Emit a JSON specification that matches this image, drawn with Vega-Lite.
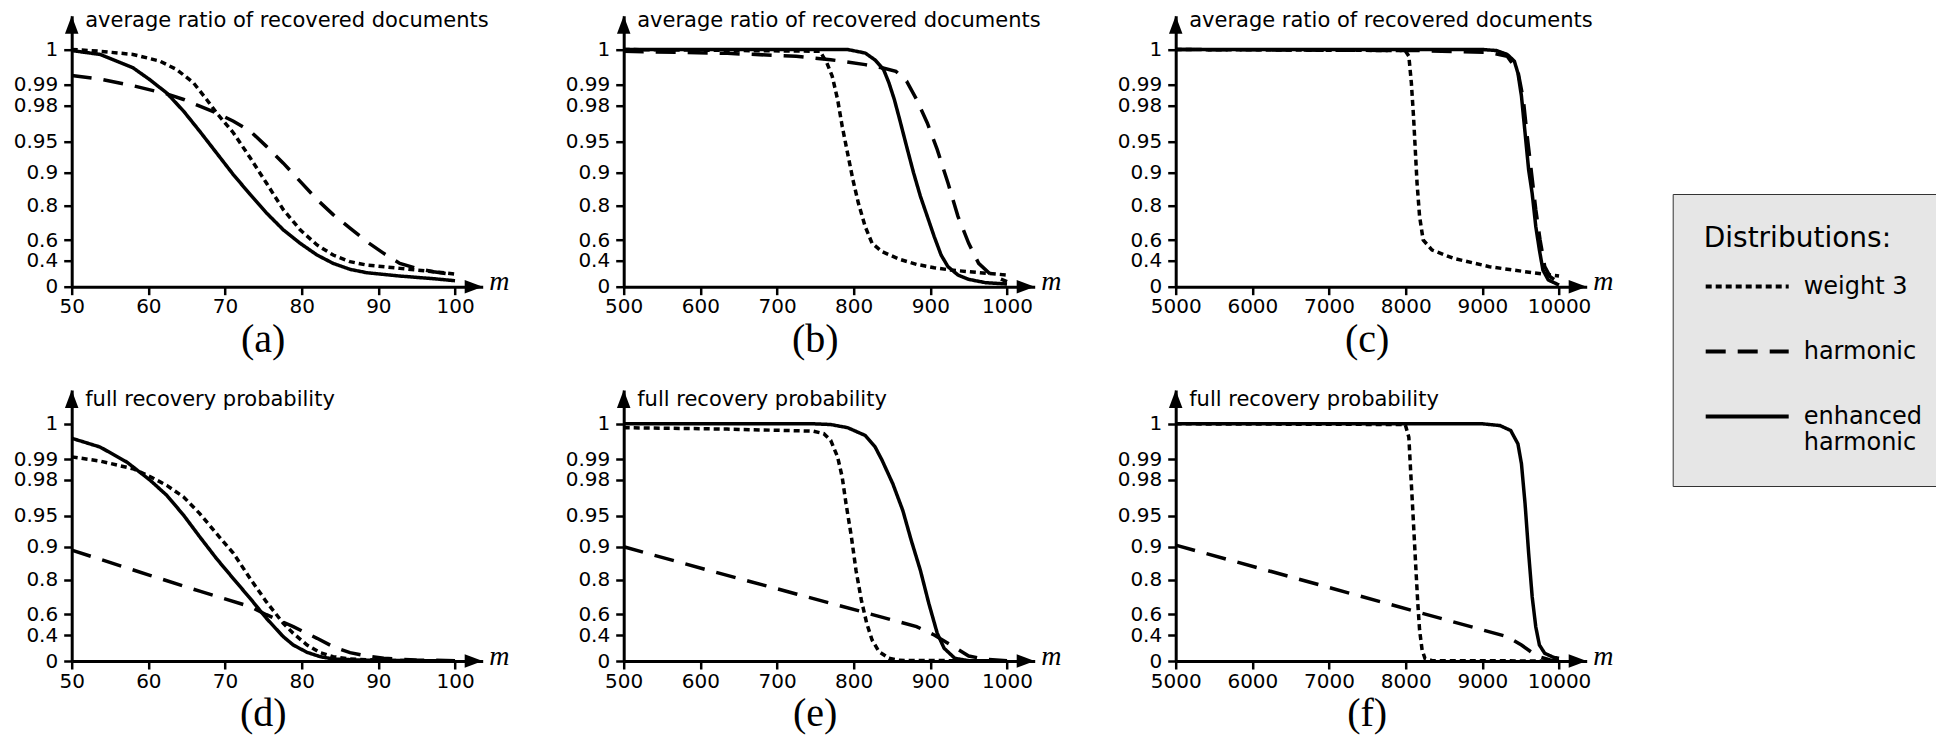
{
  "$schema": "https://vega.github.io/schema/vega-lite/v6.json",
  "autosize": {"type": "none"},
  "padding": {"left": 71.7, "top": 15.7, "right": 1864.3, "bottom": 724.3},
  "background": "white",
  "datasets": {
    "a": [
      {"dist": "weight 3", "m": 50, "v": 1.0}, {"dist": "weight 3", "m": 53.7, "v": 0.9995}, {"dist": "weight 3", "m": 58, "v": 0.9986}, {"dist": "weight 3", "m": 61.5, "v": 0.9967}, {"dist": "weight 3", "m": 63.7, "v": 0.9943}, {"dist": "weight 3", "m": 65.9, "v": 0.9905}, {"dist": "weight 3", "m": 67.6, "v": 0.9829}, {"dist": "weight 3", "m": 68.9, "v": 0.9738}, {"dist": "weight 3", "m": 71.1, "v": 0.957}, {"dist": "weight 3", "m": 73.3, "v": 0.9231}, {"dist": "weight 3", "m": 75.4, "v": 0.868}, {"dist": "weight 3", "m": 77.6, "v": 0.776}, {"dist": "weight 3", "m": 79.8, "v": 0.659}, {"dist": "weight 3", "m": 82, "v": 0.552}, {"dist": "weight 3", "m": 84.1, "v": 0.455}, {"dist": "weight 3", "m": 86.3, "v": 0.385}, {"dist": "weight 3", "m": 88.5, "v": 0.333}, {"dist": "weight 3", "m": 92.8, "v": 0.282}, {"dist": "weight 3", "m": 97.2, "v": 0.231}, {"dist": "weight 3", "m": 100, "v": 0.195},
      {"dist": "harmonic", "m": 50, "v": 0.9926}, {"dist": "harmonic", "m": 53.7, "v": 0.9916}, {"dist": "harmonic", "m": 58, "v": 0.9895}, {"dist": "harmonic", "m": 62.4, "v": 0.9856}, {"dist": "harmonic", "m": 64.6, "v": 0.9829}, {"dist": "harmonic", "m": 66.7, "v": 0.9794}, {"dist": "harmonic", "m": 68.9, "v": 0.9738}, {"dist": "harmonic", "m": 71.1, "v": 0.9668}, {"dist": "harmonic", "m": 73.3, "v": 0.9584}, {"dist": "harmonic", "m": 75.4, "v": 0.9419}, {"dist": "harmonic", "m": 77.6, "v": 0.915}, {"dist": "harmonic", "m": 79.8, "v": 0.873}, {"dist": "harmonic", "m": 82, "v": 0.818}, {"dist": "harmonic", "m": 84.1, "v": 0.747}, {"dist": "harmonic", "m": 86.3, "v": 0.669}, {"dist": "harmonic", "m": 88.5, "v": 0.584}, {"dist": "harmonic", "m": 90.7, "v": 0.471}, {"dist": "harmonic", "m": 92.8, "v": 0.359}, {"dist": "harmonic", "m": 95, "v": 0.282}, {"dist": "harmonic", "m": 97.2, "v": 0.231}, {"dist": "harmonic", "m": 100, "v": 0.18},
      {"dist": "enhanced harmonic", "m": 50, "v": 0.9997}, {"dist": "enhanced harmonic", "m": 53.7, "v": 0.9986}, {"dist": "enhanced harmonic", "m": 58, "v": 0.9948}, {"dist": "enhanced harmonic", "m": 60.2, "v": 0.9914}, {"dist": "enhanced harmonic", "m": 62.4, "v": 0.986}, {"dist": "enhanced harmonic", "m": 64.6, "v": 0.9752}, {"dist": "enhanced harmonic", "m": 66.7, "v": 0.9584}, {"dist": "enhanced harmonic", "m": 68.9, "v": 0.9312}, {"dist": "enhanced harmonic", "m": 71.1, "v": 0.893}, {"dist": "enhanced harmonic", "m": 73.3, "v": 0.833}, {"dist": "enhanced harmonic", "m": 75.4, "v": 0.757}, {"dist": "enhanced harmonic", "m": 77.6, "v": 0.659}, {"dist": "enhanced harmonic", "m": 79.8, "v": 0.568}, {"dist": "enhanced harmonic", "m": 82, "v": 0.455}, {"dist": "enhanced harmonic", "m": 84.1, "v": 0.359}, {"dist": "enhanced harmonic", "m": 86.3, "v": 0.267}, {"dist": "enhanced harmonic", "m": 88.5, "v": 0.215}, {"dist": "enhanced harmonic", "m": 92.8, "v": 0.164}, {"dist": "enhanced harmonic", "m": 97.2, "v": 0.123}, {"dist": "enhanced harmonic", "m": 100, "v": 0.092}
    ],
    "b": [
      {"dist": "weight 3", "m": 500, "v": 1.0}, {"dist": "weight 3", "m": 756, "v": 0.9995}, {"dist": "weight 3", "m": 765, "v": 0.9962}, {"dist": "weight 3", "m": 772, "v": 0.9924}, {"dist": "weight 3", "m": 779, "v": 0.9829}, {"dist": "weight 3", "m": 785, "v": 0.9626}, {"dist": "weight 3", "m": 792, "v": 0.931}, {"dist": "weight 3", "m": 799, "v": 0.878}, {"dist": "weight 3", "m": 806, "v": 0.808}, {"dist": "weight 3", "m": 815, "v": 0.678}, {"dist": "weight 3", "m": 824, "v": 0.568}, {"dist": "weight 3", "m": 837, "v": 0.487}, {"dist": "weight 3", "m": 860, "v": 0.413}, {"dist": "weight 3", "m": 882, "v": 0.344}, {"dist": "weight 3", "m": 905, "v": 0.292}, {"dist": "weight 3", "m": 927, "v": 0.256}, {"dist": "weight 3", "m": 950, "v": 0.231}, {"dist": "weight 3", "m": 1000, "v": 0.18},
      {"dist": "harmonic", "m": 500, "v": 0.9995}, {"dist": "harmonic", "m": 635, "v": 0.9989}, {"dist": "harmonic", "m": 725, "v": 0.9981}, {"dist": "harmonic", "m": 770, "v": 0.9971}, {"dist": "harmonic", "m": 815, "v": 0.9957}, {"dist": "harmonic", "m": 837, "v": 0.9948}, {"dist": "harmonic", "m": 855, "v": 0.9938}, {"dist": "harmonic", "m": 869, "v": 0.991}, {"dist": "harmonic", "m": 882, "v": 0.9829}, {"dist": "harmonic", "m": 896, "v": 0.9654}, {"dist": "harmonic", "m": 909, "v": 0.9366}, {"dist": "harmonic", "m": 923, "v": 0.868}, {"dist": "harmonic", "m": 936, "v": 0.737}, {"dist": "harmonic", "m": 950, "v": 0.568}, {"dist": "harmonic", "m": 963, "v": 0.359}, {"dist": "harmonic", "m": 977, "v": 0.205}, {"dist": "harmonic", "m": 990, "v": 0.128}, {"dist": "harmonic", "m": 1000, "v": 0.077},
      {"dist": "enhanced harmonic", "m": 500, "v": 1.0}, {"dist": "enhanced harmonic", "m": 792, "v": 1.0}, {"dist": "enhanced harmonic", "m": 815, "v": 0.999}, {"dist": "enhanced harmonic", "m": 828, "v": 0.997}, {"dist": "enhanced harmonic", "m": 839, "v": 0.9943}, {"dist": "enhanced harmonic", "m": 846, "v": 0.9905}, {"dist": "enhanced harmonic", "m": 853, "v": 0.9829}, {"dist": "enhanced harmonic", "m": 860, "v": 0.9682}, {"dist": "enhanced harmonic", "m": 869, "v": 0.9419}, {"dist": "enhanced harmonic", "m": 878, "v": 0.8998}, {"dist": "enhanced harmonic", "m": 887, "v": 0.828}, {"dist": "enhanced harmonic", "m": 896, "v": 0.737}, {"dist": "enhanced harmonic", "m": 905, "v": 0.62}, {"dist": "enhanced harmonic", "m": 914, "v": 0.455}, {"dist": "enhanced harmonic", "m": 923, "v": 0.308}, {"dist": "enhanced harmonic", "m": 936, "v": 0.18}, {"dist": "enhanced harmonic", "m": 950, "v": 0.113}, {"dist": "enhanced harmonic", "m": 972, "v": 0.062}, {"dist": "enhanced harmonic", "m": 1000, "v": 0.041}
    ],
    "c": [
      {"dist": "weight 3", "m": 5000, "v": 1.0}, {"dist": "weight 3", "m": 7994, "v": 0.9997}, {"dist": "weight 3", "m": 8041, "v": 0.9981}, {"dist": "weight 3", "m": 8074, "v": 0.9905}, {"dist": "weight 3", "m": 8102, "v": 0.971}, {"dist": "weight 3", "m": 8125, "v": 0.9366}, {"dist": "weight 3", "m": 8148, "v": 0.868}, {"dist": "weight 3", "m": 8181, "v": 0.737}, {"dist": "weight 3", "m": 8228, "v": 0.6}, {"dist": "weight 3", "m": 8344, "v": 0.503}, {"dist": "weight 3", "m": 8624, "v": 0.423}, {"dist": "weight 3", "m": 9091, "v": 0.308}, {"dist": "weight 3", "m": 9557, "v": 0.231}, {"dist": "weight 3", "m": 10000, "v": 0.164},
      {"dist": "harmonic", "m": 5000, "v": 1.0}, {"dist": "harmonic", "m": 8158, "v": 0.9997}, {"dist": "harmonic", "m": 9090, "v": 0.9992}, {"dist": "harmonic", "m": 9324, "v": 0.9981}, {"dist": "harmonic", "m": 9464, "v": 0.9938}, {"dist": "harmonic", "m": 9534, "v": 0.9829}, {"dist": "harmonic", "m": 9580, "v": 0.957}, {"dist": "harmonic", "m": 9641, "v": 0.899}, {"dist": "harmonic", "m": 9697, "v": 0.776}, {"dist": "harmonic", "m": 9753, "v": 0.6}, {"dist": "harmonic", "m": 9814, "v": 0.308}, {"dist": "harmonic", "m": 9884, "v": 0.154}, {"dist": "harmonic", "m": 10000, "v": 0.062},
      {"dist": "enhanced harmonic", "m": 5000, "v": 1.0}, {"dist": "enhanced harmonic", "m": 9000, "v": 1.0}, {"dist": "enhanced harmonic", "m": 9184, "v": 0.9997}, {"dist": "enhanced harmonic", "m": 9324, "v": 0.9986}, {"dist": "enhanced harmonic", "m": 9417, "v": 0.9967}, {"dist": "enhanced harmonic", "m": 9464, "v": 0.9933}, {"dist": "enhanced harmonic", "m": 9510, "v": 0.9845}, {"dist": "enhanced harmonic", "m": 9557, "v": 0.957}, {"dist": "enhanced harmonic", "m": 9604, "v": 0.904}, {"dist": "enhanced harmonic", "m": 9650, "v": 0.836}, {"dist": "enhanced harmonic", "m": 9697, "v": 0.678}, {"dist": "enhanced harmonic", "m": 9744, "v": 0.503}, {"dist": "enhanced harmonic", "m": 9790, "v": 0.256}, {"dist": "enhanced harmonic", "m": 9860, "v": 0.103}, {"dist": "enhanced harmonic", "m": 10000, "v": 0.026}
    ],
    "d": [
      {"dist": "weight 3", "m": 50, "v": 0.9906}, {"dist": "weight 3", "m": 53.7, "v": 0.989}, {"dist": "weight 3", "m": 58, "v": 0.9853}, {"dist": "weight 3", "m": 60.2, "v": 0.9816}, {"dist": "weight 3", "m": 62.4, "v": 0.9753}, {"dist": "weight 3", "m": 64.6, "v": 0.9656}, {"dist": "weight 3", "m": 66.7, "v": 0.9517}, {"dist": "weight 3", "m": 68.9, "v": 0.921}, {"dist": "weight 3", "m": 71.1, "v": 0.88}, {"dist": "weight 3", "m": 73.3, "v": 0.803}, {"dist": "weight 3", "m": 75.4, "v": 0.672}, {"dist": "weight 3", "m": 77.6, "v": 0.513}, {"dist": "weight 3", "m": 78.9, "v": 0.416}, {"dist": "weight 3", "m": 80.7, "v": 0.246}, {"dist": "weight 3", "m": 82.4, "v": 0.128}, {"dist": "weight 3", "m": 84.1, "v": 0.067}, {"dist": "weight 3", "m": 86.3, "v": 0.031}, {"dist": "weight 3", "m": 90.7, "v": 0.01}, {"dist": "weight 3", "m": 100, "v": 0.0},
      {"dist": "harmonic", "m": 50, "v": 0.89}, {"dist": "harmonic", "m": 60.2, "v": 0.8136}, {"dist": "harmonic", "m": 66.7, "v": 0.734}, {"dist": "harmonic", "m": 73.3, "v": 0.644}, {"dist": "harmonic", "m": 75.4, "v": 0.596}, {"dist": "harmonic", "m": 78.9, "v": 0.481}, {"dist": "harmonic", "m": 82, "v": 0.349}, {"dist": "harmonic", "m": 84.1, "v": 0.22}, {"dist": "harmonic", "m": 86.3, "v": 0.128}, {"dist": "harmonic", "m": 88.5, "v": 0.077}, {"dist": "harmonic", "m": 90.7, "v": 0.041}, {"dist": "harmonic", "m": 95, "v": 0.015}, {"dist": "harmonic", "m": 100, "v": 0.005},
      {"dist": "enhanced harmonic", "m": 50, "v": 0.9959}, {"dist": "enhanced harmonic", "m": 53.7, "v": 0.9934}, {"dist": "enhanced harmonic", "m": 57.2, "v": 0.9885}, {"dist": "enhanced harmonic", "m": 60.2, "v": 0.9798}, {"dist": "enhanced harmonic", "m": 62.4, "v": 0.967}, {"dist": "enhanced harmonic", "m": 64.6, "v": 0.9503}, {"dist": "enhanced harmonic", "m": 66.7, "v": 0.916}, {"dist": "enhanced harmonic", "m": 68.9, "v": 0.864}, {"dist": "enhanced harmonic", "m": 71.1, "v": 0.803}, {"dist": "enhanced harmonic", "m": 73.3, "v": 0.691}, {"dist": "enhanced harmonic", "m": 75.4, "v": 0.561}, {"dist": "enhanced harmonic", "m": 77.6, "v": 0.374}, {"dist": "enhanced harmonic", "m": 78.9, "v": 0.246}, {"dist": "enhanced harmonic", "m": 80.7, "v": 0.133}, {"dist": "enhanced harmonic", "m": 82.4, "v": 0.067}, {"dist": "enhanced harmonic", "m": 84.1, "v": 0.031}, {"dist": "enhanced harmonic", "m": 88.5, "v": 0.01}, {"dist": "enhanced harmonic", "m": 100, "v": 0.0}
    ],
    "e": [
      {"dist": "weight 3", "m": 500, "v": 0.9989}, {"dist": "weight 3", "m": 635, "v": 0.9985}, {"dist": "weight 3", "m": 747, "v": 0.9979}, {"dist": "weight 3", "m": 761, "v": 0.9972}, {"dist": "weight 3", "m": 770, "v": 0.9953}, {"dist": "weight 3", "m": 779, "v": 0.9906}, {"dist": "weight 3", "m": 785, "v": 0.9813}, {"dist": "weight 3", "m": 790, "v": 0.96}, {"dist": "weight 3", "m": 797, "v": 0.916}, {"dist": "weight 3", "m": 803, "v": 0.829}, {"dist": "weight 3", "m": 810, "v": 0.682}, {"dist": "weight 3", "m": 817, "v": 0.513}, {"dist": "weight 3", "m": 824, "v": 0.323}, {"dist": "weight 3", "m": 833, "v": 0.144}, {"dist": "weight 3", "m": 846, "v": 0.041}, {"dist": "weight 3", "m": 860, "v": 0.01}, {"dist": "weight 3", "m": 1000, "v": 0.0},
      {"dist": "harmonic", "m": 500, "v": 0.9}, {"dist": "harmonic", "m": 612, "v": 0.828}, {"dist": "harmonic", "m": 725, "v": 0.718}, {"dist": "harmonic", "m": 815, "v": 0.61}, {"dist": "harmonic", "m": 882, "v": 0.481}, {"dist": "harmonic", "m": 905, "v": 0.4}, {"dist": "harmonic", "m": 927, "v": 0.246}, {"dist": "harmonic", "m": 941, "v": 0.144}, {"dist": "harmonic", "m": 950, "v": 0.077}, {"dist": "harmonic", "m": 972, "v": 0.026}, {"dist": "harmonic", "m": 1000, "v": 0.005},
      {"dist": "enhanced harmonic", "m": 500, "v": 1.0}, {"dist": "enhanced harmonic", "m": 747, "v": 1.0}, {"dist": "enhanced harmonic", "m": 770, "v": 0.9998}, {"dist": "enhanced harmonic", "m": 792, "v": 0.9989}, {"dist": "enhanced harmonic", "m": 815, "v": 0.9967}, {"dist": "enhanced harmonic", "m": 828, "v": 0.9934}, {"dist": "enhanced harmonic", "m": 837, "v": 0.9894}, {"dist": "enhanced harmonic", "m": 851, "v": 0.9767}, {"dist": "enhanced harmonic", "m": 864, "v": 0.9544}, {"dist": "enhanced harmonic", "m": 875, "v": 0.9106}, {"dist": "enhanced harmonic", "m": 887, "v": 0.8286}, {"dist": "enhanced harmonic", "m": 898, "v": 0.663}, {"dist": "enhanced harmonic", "m": 909, "v": 0.416}, {"dist": "enhanced harmonic", "m": 918, "v": 0.195}, {"dist": "enhanced harmonic", "m": 932, "v": 0.041}, {"dist": "enhanced harmonic", "m": 950, "v": 0.005}, {"dist": "enhanced harmonic", "m": 1000, "v": 0.0}
    ],
    "f": [
      {"dist": "weight 3", "m": 5000, "v": 1.0}, {"dist": "weight 3", "m": 7994, "v": 0.9998}, {"dist": "weight 3", "m": 8041, "v": 0.9962}, {"dist": "weight 3", "m": 8064, "v": 0.9845}, {"dist": "weight 3", "m": 8088, "v": 0.96}, {"dist": "weight 3", "m": 8111, "v": 0.916}, {"dist": "weight 3", "m": 8134, "v": 0.829}, {"dist": "weight 3", "m": 8158, "v": 0.663}, {"dist": "weight 3", "m": 8181, "v": 0.448}, {"dist": "weight 3", "m": 8214, "v": 0.169}, {"dist": "weight 3", "m": 8251, "v": 0.041}, {"dist": "weight 3", "m": 8344, "v": 0.005}, {"dist": "weight 3", "m": 10000, "v": 0.0},
      {"dist": "harmonic", "m": 5000, "v": 0.9027}, {"dist": "harmonic", "m": 8158, "v": 0.613}, {"dist": "harmonic", "m": 9324, "v": 0.374}, {"dist": "harmonic", "m": 9510, "v": 0.246}, {"dist": "harmonic", "m": 9650, "v": 0.128}, {"dist": "harmonic", "m": 9767, "v": 0.056}, {"dist": "harmonic", "m": 9884, "v": 0.015}, {"dist": "harmonic", "m": 10000, "v": 0.005},
      {"dist": "enhanced harmonic", "m": 5000, "v": 1.0}, {"dist": "enhanced harmonic", "m": 9000, "v": 1.0}, {"dist": "enhanced harmonic", "m": 9230, "v": 0.9995}, {"dist": "enhanced harmonic", "m": 9370, "v": 0.9981}, {"dist": "enhanced harmonic", "m": 9464, "v": 0.9943}, {"dist": "enhanced harmonic", "m": 9510, "v": 0.9877}, {"dist": "enhanced harmonic", "m": 9557, "v": 0.96}, {"dist": "enhanced harmonic", "m": 9604, "v": 0.88}, {"dist": "enhanced harmonic", "m": 9650, "v": 0.701}, {"dist": "enhanced harmonic", "m": 9697, "v": 0.477}, {"dist": "enhanced harmonic", "m": 9744, "v": 0.246}, {"dist": "enhanced harmonic", "m": 9814, "v": 0.118}, {"dist": "enhanced harmonic", "m": 9930, "v": 0.056}, {"dist": "enhanced harmonic", "m": 10000, "v": 0.041}
    ]
  },
  "concat": [
    {
      "width": 411, "height": 271,
      "title": {"text": "(a)", "dx": -14},
      "layer": [
        {"data": {"name": "a"}, "mark": {"type": "line", "strokeWidth": 3.5, "color": "black"},
         "encoding": {
           "x": {"field": "m", "type": "quantitative", "scale": {"domain": [50, 103.61], "nice": false, "zero": false}, "axis": {"values": [50, 60, 70, 80, 90, 100], "format": "d", "labelOverlap": false, "title": "m"}},
           "y": {"field": "v", "type": "quantitative", "scale": {"domain": [0, 0.4, 0.6, 0.8, 0.9, 0.95, 0.98, 0.99, 1, 1.1], "range": [271, 245, 224.3, 189.8, 156.8, 125.6, 89.8, 69, 33.8, 0], "nice": false, "zero": false}, "axis": {"values": [0, 0.4, 0.6, 0.8, 0.9, 0.95, 0.98, 0.99, 1], "format": "~g", "labelOverlap": false, "title": "average ratio of recovered documents", "titleY": 11}},
           "strokeDash": {"field": "dist", "type": "nominal", "scale": {"domain": ["weight 3", "harmonic", "enhanced harmonic"], "range": [[6, 4], [20, 12], [1, 0]]}, "legend": {"title": "Distributions:", "orient": "none", "legendX": 1601, "legendY": 178.3, "titleLimit": 400, "labelExpr": "datum.label == 'enhanced harmonic' ? ['enhanced', 'harmonic'] : datum.label"}}
         }},
        {"data": {"values": [{}]}, "mark": {"type": "point", "shape": "M0,0L-2,-0.75L-2,0.75Z", "size": 324, "filled": true, "color": "black", "opacity": 1},
         "encoding": {
           "x": {"datum": 103.61, "type": "quantitative", "axis": {"values": [50, 60, 70, 80, 90, 100], "format": "d", "labelOverlap": false, "title": "m"}},
           "y": {"datum": 0, "type": "quantitative", "axis": {"values": [0, 0.4, 0.6, 0.8, 0.9, 0.95, 0.98, 0.99, 1], "format": "~g", "labelOverlap": false, "title": "average ratio of recovered documents", "titleY": 11}}}},
        {"data": {"values": [{}]}, "mark": {"type": "point", "shape": "M0,0L-0.75,2L0.75,2Z", "size": 324, "filled": true, "color": "black", "opacity": 1},
         "encoding": {
           "x": {"datum": 50, "type": "quantitative", "axis": {"values": [50, 60, 70, 80, 90, 100], "format": "d", "labelOverlap": false, "title": "m"}},
           "y": {"datum": 1.1, "type": "quantitative", "axis": {"values": [0, 0.4, 0.6, 0.8, 0.9, 0.95, 0.98, 0.99, 1], "format": "~g", "labelOverlap": false, "title": "average ratio of recovered documents", "titleY": 11}}}}
      ]
    },
    {
      "width": 411, "height": 271,
      "title": {"text": "(b)", "dx": -14},
      "layer": [
        {"data": {"name": "b"}, "mark": {"type": "line", "strokeWidth": 3.5, "color": "black"},
         "encoding": {
           "x": {"field": "m", "type": "quantitative", "scale": {"domain": [500, 1036.1], "nice": false, "zero": false}, "axis": {"values": [500, 600, 700, 800, 900, 1000], "format": "d", "labelOverlap": false, "title": "m"}},
           "y": {"field": "v", "type": "quantitative", "scale": {"domain": [0, 0.4, 0.6, 0.8, 0.9, 0.95, 0.98, 0.99, 1, 1.1], "range": [271, 245, 224.3, 189.8, 156.8, 125.6, 89.8, 69, 33.8, 0], "nice": false, "zero": false}, "axis": {"values": [0, 0.4, 0.6, 0.8, 0.9, 0.95, 0.98, 0.99, 1], "format": "~g", "labelOverlap": false, "title": "average ratio of recovered documents", "titleY": 11}},
           "strokeDash": {"field": "dist", "type": "nominal", "scale": {"domain": ["weight 3", "harmonic", "enhanced harmonic"], "range": [[6, 4], [20, 12], [1, 0]]}, "legend": {"title": "Distributions:", "orient": "none", "legendX": 1601, "legendY": 178.3, "titleLimit": 400, "labelExpr": "datum.label == 'enhanced harmonic' ? ['enhanced', 'harmonic'] : datum.label"}}
         }},
        {"data": {"values": [{}]}, "mark": {"type": "point", "shape": "M0,0L-2,-0.75L-2,0.75Z", "size": 324, "filled": true, "color": "black", "opacity": 1},
         "encoding": {
           "x": {"datum": 1036.1, "type": "quantitative", "axis": {"values": [500, 600, 700, 800, 900, 1000], "format": "d", "labelOverlap": false, "title": "m"}},
           "y": {"datum": 0, "type": "quantitative", "axis": {"values": [0, 0.4, 0.6, 0.8, 0.9, 0.95, 0.98, 0.99, 1], "format": "~g", "labelOverlap": false, "title": "average ratio of recovered documents", "titleY": 11}}}},
        {"data": {"values": [{}]}, "mark": {"type": "point", "shape": "M0,0L-0.75,2L0.75,2Z", "size": 324, "filled": true, "color": "black", "opacity": 1},
         "encoding": {
           "x": {"datum": 500, "type": "quantitative", "axis": {"values": [500, 600, 700, 800, 900, 1000], "format": "d", "labelOverlap": false, "title": "m"}},
           "y": {"datum": 1.1, "type": "quantitative", "axis": {"values": [0, 0.4, 0.6, 0.8, 0.9, 0.95, 0.98, 0.99, 1], "format": "~g", "labelOverlap": false, "title": "average ratio of recovered documents", "titleY": 11}}}}
      ]
    },
    {
      "width": 411, "height": 271,
      "title": {"text": "(c)", "dx": -14},
      "layer": [
        {"data": {"name": "c"}, "mark": {"type": "line", "strokeWidth": 3.5, "color": "black"},
         "encoding": {
           "x": {"field": "m", "type": "quantitative", "scale": {"domain": [5000, 10361], "nice": false, "zero": false}, "axis": {"values": [5000, 6000, 7000, 8000, 9000, 10000], "format": "d", "labelOverlap": false, "title": "m"}},
           "y": {"field": "v", "type": "quantitative", "scale": {"domain": [0, 0.4, 0.6, 0.8, 0.9, 0.95, 0.98, 0.99, 1, 1.1], "range": [271, 245, 224.3, 189.8, 156.8, 125.6, 89.8, 69, 33.8, 0], "nice": false, "zero": false}, "axis": {"values": [0, 0.4, 0.6, 0.8, 0.9, 0.95, 0.98, 0.99, 1], "format": "~g", "labelOverlap": false, "title": "average ratio of recovered documents", "titleY": 11}},
           "strokeDash": {"field": "dist", "type": "nominal", "scale": {"domain": ["weight 3", "harmonic", "enhanced harmonic"], "range": [[6, 4], [20, 12], [1, 0]]}, "legend": {"title": "Distributions:", "orient": "none", "legendX": 1601, "legendY": 178.3, "titleLimit": 400, "labelExpr": "datum.label == 'enhanced harmonic' ? ['enhanced', 'harmonic'] : datum.label"}}
         }},
        {"data": {"values": [{}]}, "mark": {"type": "point", "shape": "M0,0L-2,-0.75L-2,0.75Z", "size": 324, "filled": true, "color": "black", "opacity": 1},
         "encoding": {
           "x": {"datum": 10361, "type": "quantitative", "axis": {"values": [5000, 6000, 7000, 8000, 9000, 10000], "format": "d", "labelOverlap": false, "title": "m"}},
           "y": {"datum": 0, "type": "quantitative", "axis": {"values": [0, 0.4, 0.6, 0.8, 0.9, 0.95, 0.98, 0.99, 1], "format": "~g", "labelOverlap": false, "title": "average ratio of recovered documents", "titleY": 11}}}},
        {"data": {"values": [{}]}, "mark": {"type": "point", "shape": "M0,0L-0.75,2L0.75,2Z", "size": 324, "filled": true, "color": "black", "opacity": 1},
         "encoding": {
           "x": {"datum": 5000, "type": "quantitative", "axis": {"values": [5000, 6000, 7000, 8000, 9000, 10000], "format": "d", "labelOverlap": false, "title": "m"}},
           "y": {"datum": 1.1, "type": "quantitative", "axis": {"values": [0, 0.4, 0.6, 0.8, 0.9, 0.95, 0.98, 0.99, 1], "format": "~g", "labelOverlap": false, "title": "average ratio of recovered documents", "titleY": 11}}}}
      ]
    },
    {
      "width": 411, "height": 271,
      "title": {"text": "(d)", "dx": -14},
      "layer": [
        {"data": {"name": "d"}, "mark": {"type": "line", "strokeWidth": 3.5, "color": "black"},
         "encoding": {
           "x": {"field": "m", "type": "quantitative", "scale": {"domain": [50, 103.61], "nice": false, "zero": false}, "axis": {"values": [50, 60, 70, 80, 90, 100], "format": "d", "labelOverlap": false, "title": "m"}},
           "y": {"field": "v", "type": "quantitative", "scale": {"domain": [0, 0.4, 0.6, 0.8, 0.9, 0.95, 0.98, 0.99, 1, 1.1], "range": [271, 245, 224.3, 189.8, 156.8, 125.6, 89.8, 69, 33.8, 0], "nice": false, "zero": false}, "axis": {"values": [0, 0.4, 0.6, 0.8, 0.9, 0.95, 0.98, 0.99, 1], "format": "~g", "labelOverlap": false, "title": "full recovery probability", "titleY": 15}},
           "strokeDash": {"field": "dist", "type": "nominal", "scale": {"domain": ["weight 3", "harmonic", "enhanced harmonic"], "range": [[6, 4], [20, 12], [1, 0]]}, "legend": {"title": "Distributions:", "orient": "none", "legendX": 1601, "legendY": 178.3, "titleLimit": 400, "labelExpr": "datum.label == 'enhanced harmonic' ? ['enhanced', 'harmonic'] : datum.label"}}
         }},
        {"data": {"values": [{}]}, "mark": {"type": "point", "shape": "M0,0L-2,-0.75L-2,0.75Z", "size": 324, "filled": true, "color": "black", "opacity": 1},
         "encoding": {
           "x": {"datum": 103.61, "type": "quantitative", "axis": {"values": [50, 60, 70, 80, 90, 100], "format": "d", "labelOverlap": false, "title": "m"}},
           "y": {"datum": 0, "type": "quantitative", "axis": {"values": [0, 0.4, 0.6, 0.8, 0.9, 0.95, 0.98, 0.99, 1], "format": "~g", "labelOverlap": false, "title": "full recovery probability", "titleY": 15}}}},
        {"data": {"values": [{}]}, "mark": {"type": "point", "shape": "M0,0L-0.75,2L0.75,2Z", "size": 324, "filled": true, "color": "black", "opacity": 1},
         "encoding": {
           "x": {"datum": 50, "type": "quantitative", "axis": {"values": [50, 60, 70, 80, 90, 100], "format": "d", "labelOverlap": false, "title": "m"}},
           "y": {"datum": 1.1, "type": "quantitative", "axis": {"values": [0, 0.4, 0.6, 0.8, 0.9, 0.95, 0.98, 0.99, 1], "format": "~g", "labelOverlap": false, "title": "full recovery probability", "titleY": 15}}}}
      ]
    },
    {
      "width": 411, "height": 271,
      "title": {"text": "(e)", "dx": -14},
      "layer": [
        {"data": {"name": "e"}, "mark": {"type": "line", "strokeWidth": 3.5, "color": "black"},
         "encoding": {
           "x": {"field": "m", "type": "quantitative", "scale": {"domain": [500, 1036.1], "nice": false, "zero": false}, "axis": {"values": [500, 600, 700, 800, 900, 1000], "format": "d", "labelOverlap": false, "title": "m"}},
           "y": {"field": "v", "type": "quantitative", "scale": {"domain": [0, 0.4, 0.6, 0.8, 0.9, 0.95, 0.98, 0.99, 1, 1.1], "range": [271, 245, 224.3, 189.8, 156.8, 125.6, 89.8, 69, 33.8, 0], "nice": false, "zero": false}, "axis": {"values": [0, 0.4, 0.6, 0.8, 0.9, 0.95, 0.98, 0.99, 1], "format": "~g", "labelOverlap": false, "title": "full recovery probability", "titleY": 15}},
           "strokeDash": {"field": "dist", "type": "nominal", "scale": {"domain": ["weight 3", "harmonic", "enhanced harmonic"], "range": [[6, 4], [20, 12], [1, 0]]}, "legend": {"title": "Distributions:", "orient": "none", "legendX": 1601, "legendY": 178.3, "titleLimit": 400, "labelExpr": "datum.label == 'enhanced harmonic' ? ['enhanced', 'harmonic'] : datum.label"}}
         }},
        {"data": {"values": [{}]}, "mark": {"type": "point", "shape": "M0,0L-2,-0.75L-2,0.75Z", "size": 324, "filled": true, "color": "black", "opacity": 1},
         "encoding": {
           "x": {"datum": 1036.1, "type": "quantitative", "axis": {"values": [500, 600, 700, 800, 900, 1000], "format": "d", "labelOverlap": false, "title": "m"}},
           "y": {"datum": 0, "type": "quantitative", "axis": {"values": [0, 0.4, 0.6, 0.8, 0.9, 0.95, 0.98, 0.99, 1], "format": "~g", "labelOverlap": false, "title": "full recovery probability", "titleY": 15}}}},
        {"data": {"values": [{}]}, "mark": {"type": "point", "shape": "M0,0L-0.75,2L0.75,2Z", "size": 324, "filled": true, "color": "black", "opacity": 1},
         "encoding": {
           "x": {"datum": 500, "type": "quantitative", "axis": {"values": [500, 600, 700, 800, 900, 1000], "format": "d", "labelOverlap": false, "title": "m"}},
           "y": {"datum": 1.1, "type": "quantitative", "axis": {"values": [0, 0.4, 0.6, 0.8, 0.9, 0.95, 0.98, 0.99, 1], "format": "~g", "labelOverlap": false, "title": "full recovery probability", "titleY": 15}}}}
      ]
    },
    {
      "width": 411, "height": 271,
      "title": {"text": "(f)", "dx": -14},
      "layer": [
        {"data": {"name": "f"}, "mark": {"type": "line", "strokeWidth": 3.5, "color": "black"},
         "encoding": {
           "x": {"field": "m", "type": "quantitative", "scale": {"domain": [5000, 10361], "nice": false, "zero": false}, "axis": {"values": [5000, 6000, 7000, 8000, 9000, 10000], "format": "d", "labelOverlap": false, "title": "m"}},
           "y": {"field": "v", "type": "quantitative", "scale": {"domain": [0, 0.4, 0.6, 0.8, 0.9, 0.95, 0.98, 0.99, 1, 1.1], "range": [271, 245, 224.3, 189.8, 156.8, 125.6, 89.8, 69, 33.8, 0], "nice": false, "zero": false}, "axis": {"values": [0, 0.4, 0.6, 0.8, 0.9, 0.95, 0.98, 0.99, 1], "format": "~g", "labelOverlap": false, "title": "full recovery probability", "titleY": 15}},
           "strokeDash": {"field": "dist", "type": "nominal", "scale": {"domain": ["weight 3", "harmonic", "enhanced harmonic"], "range": [[6, 4], [20, 12], [1, 0]]}, "legend": {"title": "Distributions:", "orient": "none", "legendX": 1601, "legendY": 178.3, "titleLimit": 400, "labelExpr": "datum.label == 'enhanced harmonic' ? ['enhanced', 'harmonic'] : datum.label"}}
         }},
        {"data": {"values": [{}]}, "mark": {"type": "point", "shape": "M0,0L-2,-0.75L-2,0.75Z", "size": 324, "filled": true, "color": "black", "opacity": 1},
         "encoding": {
           "x": {"datum": 10361, "type": "quantitative", "axis": {"values": [5000, 6000, 7000, 8000, 9000, 10000], "format": "d", "labelOverlap": false, "title": "m"}},
           "y": {"datum": 0, "type": "quantitative", "axis": {"values": [0, 0.4, 0.6, 0.8, 0.9, 0.95, 0.98, 0.99, 1], "format": "~g", "labelOverlap": false, "title": "full recovery probability", "titleY": 15}}}},
        {"data": {"values": [{}]}, "mark": {"type": "point", "shape": "M0,0L-0.75,2L0.75,2Z", "size": 324, "filled": true, "color": "black", "opacity": 1},
         "encoding": {
           "x": {"datum": 5000, "type": "quantitative", "axis": {"values": [5000, 6000, 7000, 8000, 9000, 10000], "format": "d", "labelOverlap": false, "title": "m"}},
           "y": {"datum": 1.1, "type": "quantitative", "axis": {"values": [0, 0.4, 0.6, 0.8, 0.9, 0.95, 0.98, 0.99, 1], "format": "~g", "labelOverlap": false, "title": "full recovery probability", "titleY": 15}}}}
      ]
    }
  ],
  "columns": 3,
  "spacing": {"row": 103.3, "column": 141},
  "bounds": "flush",
  "resolve": {"scale": {"strokeDash": "shared"}, "legend": {"strokeDash": "shared"}},
  "config": {
    "view": {"stroke": null},
    "font": "DejaVu Sans",
    "axis": {
      "grid": false,
      "domainColor": "black", "domainWidth": 3,
      "tickColor": "black", "tickWidth": 2.5, "tickSize": 8,
      "labelColor": "black", "labelFont": "DejaVu Sans", "labelFontSize": 20,
      "labelFlush": false, "labelOverlap": false,
      "titleColor": "black"
    },
    "axisX": {
      "labelPadding": 2,
      "titleFont": "Liberation Serif", "titleFontStyle": "italic", "titleFontWeight": "normal", "titleFontSize": 28,
      "titleAngle": 0, "titleAlign": "left", "titleBaseline": "alphabetic", "titleX": 417, "titleY": 3
    },
    "axisY": {
      "labelPadding": 6,
      "titleFont": "DejaVu Sans", "titleFontWeight": "normal", "titleFontSize": 21,
      "titleAngle": 0, "titleAlign": "left", "titleBaseline": "alphabetic", "titleX": 13
    },
    "title": {
      "orient": "bottom", "anchor": "middle", "font": "Liberation Serif", "fontSize": 40, "fontWeight": "normal", "color": "black", "offset": 3
    },
    "legend": {
      "titleFont": "DejaVu Sans", "titleFontSize": 28, "titleFontWeight": "normal", "titleColor": "black", "titlePadding": -10, "titleLimit": 400,
      "labelFont": "DejaVu Sans", "labelFontSize": 24, "labelColor": "black", "labelOffset": 13, "labelLimit": 300,
      "symbolType": "stroke", "symbolSize": 6889, "symbolStrokeWidth": 4, "symbolStrokeColor": "black",
      "fillColor": "#e6e6e6", "strokeColor": "#333333", "padding": 31, "rowPadding": 9
    }
  }
}
